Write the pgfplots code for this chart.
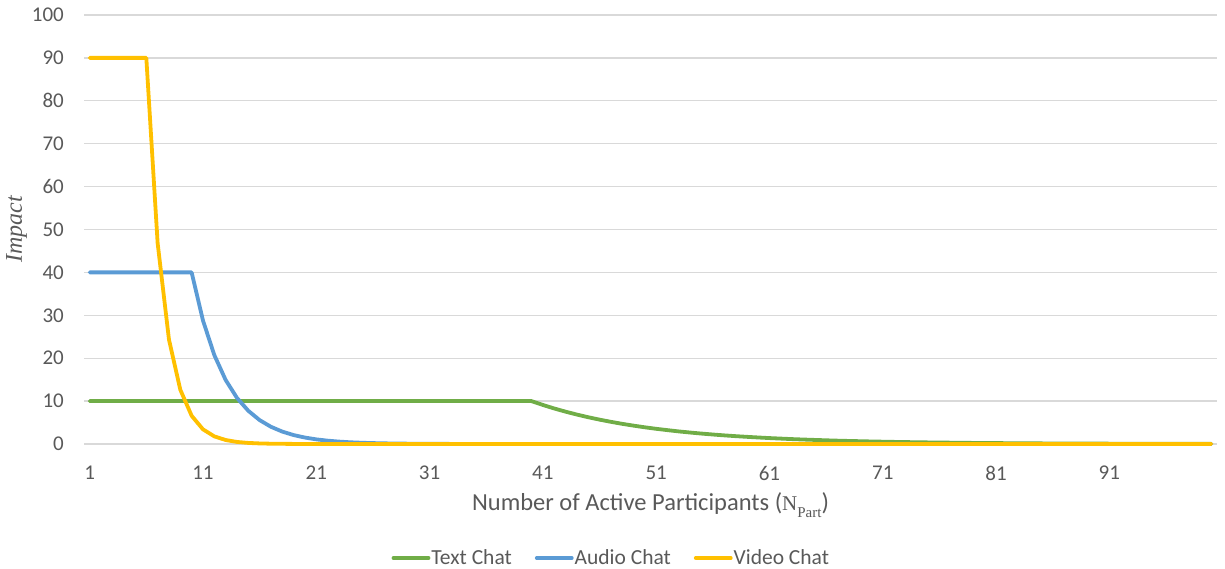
\documentclass[border=0pt]{standalone}
\usepackage{pgfplots}
\pgfplotsset{compat=1.18}
\usepackage{fontspec}
\setmainfont{Carlito}
\newfontfamily\serif{Liberation Serif}

\definecolor{textgreen}{HTML}{70AD47}
\definecolor{audioblue}{HTML}{5B9BD5}
\definecolor{videoyellow}{HTML}{FFC000}
\definecolor{gridgray}{HTML}{D9D9D9}
\definecolor{labelgray}{HTML}{595959}

\begin{document}
\begin{tikzpicture}
\path[use as bounding box] (0,0) rectangle (1225pt,569pt);
\begin{axis}[
  at={(84pt,125pt)}, anchor=south west,
  scale only axis, width=1133pt, height=429pt,
  xmin=0.5, xmax=100.5, ymin=0, ymax=100,
  xtick={1,11,...,91}, ytick={0,10,...,100},
  axis line style={draw=none},
  tick style={draw=none},
  ymajorgrids, grid style={gridgray, line width=1.3pt},
  /pgf/number format/assume math mode=true,
  tick label style={font=\fontsize{21}{25}\selectfont, text=labelgray, inner sep=0pt},
  xticklabel style={anchor=north, yshift=-22pt},
  yticklabel style={anchor=east, xshift=-20pt},
  xlabel={Number of Active Participants ({\serif\fontsize{21}{24}\selectfont N\raisebox{-7pt}{\fontsize{15}{17}\selectfont Part}})},
  xlabel style={at={(axis description cs:0.5,0)}, anchor=base, yshift=-67pt,
    inner sep=0pt, font=\fontsize{24.5}{28}\selectfont, text=labelgray},
  ylabel={\serif\itshape Impact},
  ylabel style={at={([xshift=-62pt]axis description cs:0,0.5)}, anchor=base,
    inner sep=0pt, font=\fontsize{24}{28}\selectfont, text=labelgray},
  legend columns=3,
  legend style={at={(axis description cs:0.465,-0.2657)}, anchor=center,
    draw=none, fill=none, font=\fontsize{21.5}{25}\selectfont, text=labelgray,
    /tikz/every even column/.append style={column sep=22pt},
    nodes={inner sep=1pt}},
  legend image code/.code={\draw[#1, line width=3.8pt] (0pt,0pt) -- (35pt,0pt);},
  every axis plot/.append style={line width=3.8pt, line join=round, line cap=round},
  clip=false,
]
% Text chat: flat at 10 up to 40 participants, then decays
\addplot[textgreen] coordinates {
 (1,10) (40,10) (41,9.10) (42,8.28) (43,7.54) (44,6.86) (45,6.24) (46,5.68)
 (47,5.17) (48,4.70) (49,4.28) (50,3.89) (51,3.54) (52,3.23) (53,2.93)
 (54,2.67) (55,2.43) (56,2.21) (57,2.01) (58,1.83) (59,1.67) (60,1.52)
 (61,1.38) (62,1.26) (63,1.14) (64,1.04) (65,0.95) (66,0.86) (67,0.78)
 (68,0.71) (69,0.65) (70,0.59) (71,0.54) (72,0.49) (73,0.45) (74,0.40)
 (75,0.37) (76,0.34) (77,0.31) (78,0.28) (79,0.25) (80,0.23) (81,0.21)
 (82,0.19) (83,0.17) (84,0.16) (85,0.14) (86,0.13) (87,0.12) (88,0.11)
 (89,0.10) (90,0.09) (91,0.08) (92,0.07) (93,0.07) (94,0.06) (95,0.06)
 (96,0.05) (97,0.05) (98,0.04) (99,0.04) (100,0.03)
};
\addlegendentry{Text Chat}
% Audio chat: flat at 40 up to 10 participants, then decays
\addplot[audioblue] coordinates {
 (1,40) (10,40) (11,28.8) (12,20.74) (13,14.93) (14,10.75) (15,7.74)
 (16,5.57) (17,4.01) (18,2.89) (19,2.08) (20,1.50) (21,1.08) (22,0.78)
 (23,0.56) (24,0.40) (25,0.29) (26,0.21) (27,0.15) (28,0.11) (29,0.08)
 (30,0.06) (31,0.04) (32,0.03) (33,0.02) (34,0.015) (35,0.01) (36,0)
 (100,0)
};
\addlegendentry{Audio Chat}
% Video chat: flat at 90 up to 6 participants, then decays
\addplot[videoyellow] coordinates {
 (1,90) (6,90) (7,46.8) (8,24.34) (9,12.65) (10,6.58) (11,3.42) (12,1.78)
 (13,0.93) (14,0.48) (15,0.25) (16,0.13) (17,0.07) (18,0.04) (19,0.02)
 (20,0.01) (21,0) (100,0)
};
\addlegendentry{Video Chat}
\end{axis}
\end{tikzpicture}
\end{document}
